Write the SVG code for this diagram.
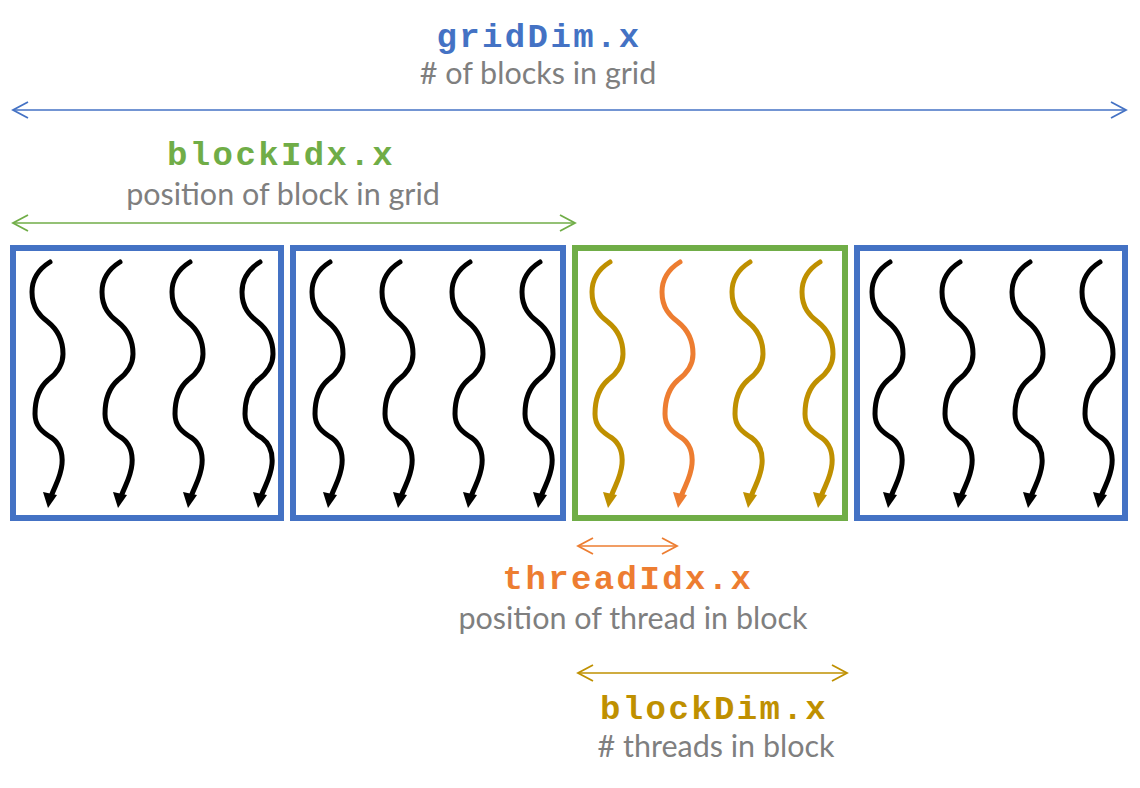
<svg xmlns="http://www.w3.org/2000/svg" xmlns:xlink="http://www.w3.org/1999/xlink" width="1140" height="788" viewBox="0 0 1140 788">
<style>
.box{fill:none;stroke-width:6}
.blue{stroke:#4472C4}
.green{stroke:#70AD47}
.code{font-family:"Liberation Mono","Courier New",monospace;font-weight:bold;font-size:34px;letter-spacing:2.4px;text-anchor:middle}
.desc{font-family:Lato,"Open Sans",sans-serif;font-size:30.5px;fill:#7F7F7F;text-anchor:middle}
.dim{fill:none;stroke-width:1.6}
</style>
<defs>
<g id="thread">
<path d="M0,0 C-8,5 -18,14 -18,30 C-18,46 -10,54 -2,60 C8,68 13,78 13,92 C13,104 6,112 -2,118 C-10,125 -15,136 -15,152 C-15,164 -8,170 2,176 C10,182 13,190 12,202 C11,214 6,222 2,232" fill="none" stroke="currentColor" stroke-width="5" stroke-linecap="round"/>
<polygon points="-7,230 7,233 -2,246" fill="currentColor"/>
</g>
<marker id="chevB" viewBox="-16 -9 18 18" markerWidth="18" markerHeight="18" refX="0" refY="0" orient="auto-start-reverse" markerUnits="userSpaceOnUse"><path d="M-15,-8 L0,0 L-15,8" fill="none" stroke="#4472C4" stroke-width="1.8"/></marker>
<marker id="chevG" viewBox="-16 -9 18 18" markerWidth="18" markerHeight="18" refX="0" refY="0" orient="auto-start-reverse" markerUnits="userSpaceOnUse"><path d="M-15,-8 L0,0 L-15,8" fill="none" stroke="#70AD47" stroke-width="1.8"/></marker>
<marker id="chevO" viewBox="-16 -9 18 18" markerWidth="18" markerHeight="18" refX="0" refY="0" orient="auto-start-reverse" markerUnits="userSpaceOnUse"><path d="M-15,-8 L0,0 L-15,8" fill="none" stroke="#ED7D31" stroke-width="1.8"/></marker>
<marker id="chevY" viewBox="-16 -9 18 18" markerWidth="18" markerHeight="18" refX="0" refY="0" orient="auto-start-reverse" markerUnits="userSpaceOnUse"><path d="M-15,-8 L0,0 L-15,8" fill="none" stroke="#BF9000" stroke-width="1.8"/></marker>
</defs>
<rect width="1140" height="788" fill="#FFFFFF"/>

<g id="label-gridDim">
<text class="code" x="539" y="47" fill="#4472C4">gridDim.x</text>
<text class="desc" x="538" y="84"># of blocks in grid</text>
</g>
<g id="label-blockIdx">
<text class="code" x="281" y="165" fill="#70AD47">blockIdx.x</text>
<text class="desc" x="283" y="205">position of block in grid</text>
</g>
<g id="label-threadIdx">
<text class="code" x="628" y="589" fill="#ED7D31">threadIdx.x</text>
<text class="desc" x="633" y="629">position of thread in block</text>
</g>
<g id="label-blockDim">
<text class="code" x="714" y="719" fill="#BF9000">blockDim.x</text>
<text class="desc" x="716" y="757"># threads in block</text>
</g>

<g id="block0">
<rect class="box blue" x="13" y="248" width="268" height="270"/>
<use xlink:href="#thread" href="#thread" transform="translate(50,262)" color="#000000"/>
<use xlink:href="#thread" href="#thread" transform="translate(120,262)" color="#000000"/>
<use xlink:href="#thread" href="#thread" transform="translate(190,262)" color="#000000"/>
<use xlink:href="#thread" href="#thread" transform="translate(260,262)" color="#000000"/>
</g>
<g id="block1">
<rect class="box blue" x="293" y="248" width="270" height="270"/>
<use xlink:href="#thread" href="#thread" transform="translate(330,262)" color="#000000"/>
<use xlink:href="#thread" href="#thread" transform="translate(400,262)" color="#000000"/>
<use xlink:href="#thread" href="#thread" transform="translate(470,262)" color="#000000"/>
<use xlink:href="#thread" href="#thread" transform="translate(540,262)" color="#000000"/>
</g>
<g id="block2">
<rect class="box green" x="575" y="248" width="270" height="270"/>
<use xlink:href="#thread" href="#thread" transform="translate(610,262)" color="#BF9000"/>
<use xlink:href="#thread" href="#thread" transform="translate(680,262)" color="#ED7D31"/>
<use xlink:href="#thread" href="#thread" transform="translate(750,262)" color="#BF9000"/>
<use xlink:href="#thread" href="#thread" transform="translate(820,262)" color="#BF9000"/>
</g>
<g id="block3">
<rect class="box blue" x="857" y="248" width="268" height="270"/>
<use xlink:href="#thread" href="#thread" transform="translate(890,262)" color="#000000"/>
<use xlink:href="#thread" href="#thread" transform="translate(960,262)" color="#000000"/>
<use xlink:href="#thread" href="#thread" transform="translate(1030,262)" color="#000000"/>
<use xlink:href="#thread" href="#thread" transform="translate(1100,262)" color="#000000"/>
</g>

<g id="connectors">
<line class="dim" x1="13" y1="110" x2="1126" y2="110" stroke="#4472C4" marker-start="url(#chevB)" marker-end="url(#chevB)"/>
<line class="dim" x1="13" y1="223" x2="575" y2="223" stroke="#70AD47" marker-start="url(#chevG)" marker-end="url(#chevG)"/>
<line class="dim" x1="578" y1="546" x2="677" y2="546" stroke="#ED7D31" marker-start="url(#chevO)" marker-end="url(#chevO)"/>
<line class="dim" x1="578" y1="673" x2="847" y2="673" stroke="#BF9000" marker-start="url(#chevY)" marker-end="url(#chevY)"/>
</g>
</svg>
